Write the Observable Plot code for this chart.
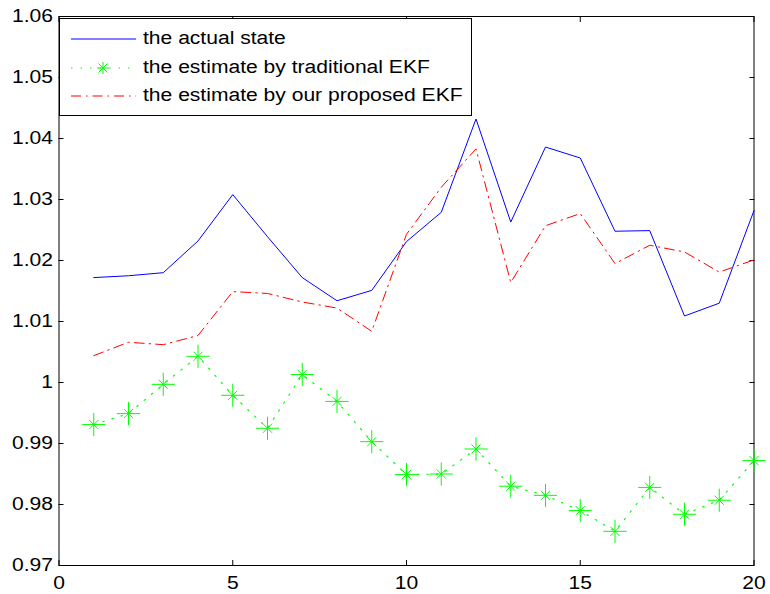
<!DOCTYPE html>
<html>
<head>
<meta charset="utf-8">
<script src="https://cdn.jsdelivr.net/npm/d3@7"></script>
<script src="https://cdn.jsdelivr.net/npm/@observablehq/plot@0.6"></script>
<style>
  html, body { margin: 0; padding: 0; background: #fff; }
  #wrap { position: relative; width: 770px; height: 594px; font-family: "Liberation Sans", Arial, sans-serif; }
  #legend { position: absolute; left: 59px; top: 18px; width: 411px; height: 96px; background: #fff; border: 1px solid #000; }
  .row { position: absolute; left: 0; height: 28px; width: 100%; }
  .row svg { position: absolute; left: 11px; top: 0; }
  .row span { position: absolute; left: 83px; top: 1px; font-size: 18px; line-height: 24px; color: #000; white-space: nowrap;
              transform: scaleX(1.17); transform-origin: 0 50%; }
</style>
</head>
<body>
<div id="wrap"></div>
<script>
const steps = [1,2,3,4,5,6,7,8,9,10,11,12,13,14,15,16,17,18,19,20];
const actualState = [1.0172,1.0175,1.0180,1.0232,1.0308,1.0239,1.0172,1.0134,1.0151,1.0231,
                     1.0279,1.0432,1.0263,1.0386,1.0368,1.0248,1.0249,1.0109,1.0130,1.0282];
const traditionalEKF = [0.9931,0.9949,0.9997,1.0043,0.9979,0.9925,1.0013,0.9969,0.9903,0.9849,
                        0.9850,0.9891,0.9830,0.9815,0.9790,0.9756,0.9828,0.9784,0.9807,0.9872];
const proposedEKF = [1.0044,1.0066,1.0062,1.0077,1.0149,1.0146,1.0132,1.0122,1.0084,1.0243,
                     1.0320,1.0383,1.0164,1.0257,1.0277,1.0195,1.0225,1.0214,1.0181,1.0201];
const xTicks = [0,5,10,15,20];
const yTicks = [0.97,0.98,0.99,1.00,1.01,1.02,1.03,1.04,1.05,1.06];
const seriesNames = ["the actual state","the estimate by traditional EKF","the estimate by our proposed EKF"];
const seriesColors = ["#0000ff","#00ff00","#ff0000"];

const actual = steps.map((s,i) => ({x: s, y: actualState[i]}));
const trad = steps.map((s,i) => ({x: s, y: traditionalEKF[i]}));
const prop = steps.map((s,i) => ({x: s, y: proposedEKF[i]}));

const fmtY = d => d3.format("~g")(d);

const chart = Plot.plot({
  width: 770,
  height: 594,
  marginLeft: 58.5,
  marginRight: 16.5,
  marginTop: 16,
  marginBottom: 29,
  style: {fontFamily: '"Liberation Sans", Arial, sans-serif', fontSize: "18px", color: "#000", background: "#fff"},
  x: {domain: [0, 20]},
  y: {domain: [0.97, 1.06]},
  marks: [
    Plot.frame({stroke: "#000", strokeWidth: 1}),
    Plot.axisX({anchor: "bottom", ticks: xTicks, tickSize: 0, tickPadding: 11, label: null, fontSize: 18}),
    Plot.axisX({anchor: "bottom", ticks: xTicks, tickSize: -5, tickFormat: () => "", label: null}),
    Plot.axisX({anchor: "top", ticks: xTicks, tickSize: -5, tickFormat: () => "", label: null}),
    Plot.axisY({anchor: "left", ticks: yTicks, tickSize: 0, tickPadding: 6, tickFormat: fmtY, label: null, fontSize: 18}),
    Plot.axisY({anchor: "left", ticks: yTicks, tickSize: -5, tickFormat: () => "", label: null}),
    Plot.axisY({anchor: "right", ticks: yTicks, tickSize: -5, tickFormat: () => "", label: null}),
    Plot.line(actual, {x: "x", y: "y", stroke: seriesColors[0], strokeWidth: 1}),
    Plot.line(prop, {x: "x", y: "y", stroke: seriesColors[2], strokeWidth: 1, strokeDasharray: "10,5,1.5,5"}),
    Plot.line(trad, {x: "x", y: "y", stroke: seriesColors[1], strokeWidth: 1.2, strokeDasharray: "1.5,8"}),
    Plot.dot(trad, {x: "x", y: "y", symbol: "plus", r: 7.5, stroke: seriesColors[1], strokeWidth: 1}),
    Plot.dot(trad, {x: "x", y: "y", symbol: "times", r: 4.2, stroke: seriesColors[1], strokeWidth: 1})
  ]
});

const wrap = document.getElementById("wrap");
wrap.append(chart);

// stretch tick labels horizontally like the reference
chart.querySelectorAll('g[aria-label$="tick label"] text').forEach(t => {
  if (t.textContent) {
    const len = t.getComputedTextLength();
    if (len > 0) {
      t.setAttribute("textLength", (len * 1.17).toFixed(2));
      t.setAttribute("lengthAdjust", "spacingAndGlyphs");
    }
  }
});

// legend
const legend = document.createElement("div");
legend.id = "legend";
const c1 = seriesColors[1];
const samples = [
  `<line x1="0" y1="14" x2="65" y2="14" stroke="${seriesColors[0]}" stroke-width="1"/>`,
  `<line x1="0" y1="14" x2="65" y2="14" stroke="${c1}" stroke-width="1.2" stroke-dasharray="1.5,8"/>
   <line x1="26" y1="14" x2="38" y2="14" stroke="${c1}"/>
   <line x1="32" y1="8" x2="32" y2="20" stroke="${c1}"/>
   <line x1="27.5" y1="9.5" x2="36.5" y2="18.5" stroke="${c1}"/>
   <line x1="27.5" y1="18.5" x2="36.5" y2="9.5" stroke="${c1}"/>`,
  `<line x1="0" y1="14" x2="65" y2="14" stroke="${seriesColors[2]}" stroke-width="1" stroke-dasharray="10,5,1.5,5"/>`
];
const rowTops = [6, 35, 63];
seriesNames.forEach((name, i) => {
  const row = document.createElement("div");
  row.className = "row";
  row.style.top = rowTops[i] + "px";
  row.innerHTML = `<svg width="66" height="28">${samples[i]}</svg><span>${name}</span>`;
  legend.append(row);
});
wrap.append(legend);
</script>
</body>
</html>
